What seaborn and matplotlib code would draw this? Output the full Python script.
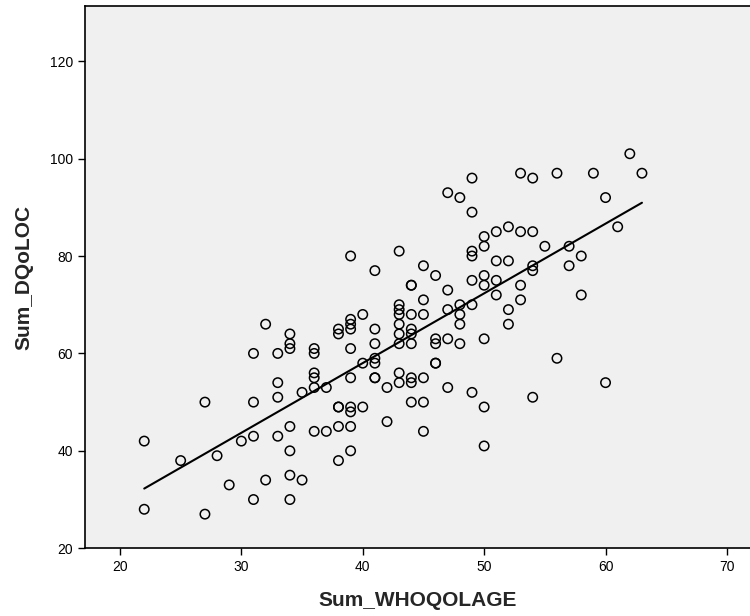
import matplotlib
matplotlib.use("Agg")
import matplotlib.pyplot as plt
import seaborn as sns
import pandas as pd

whoqol = [22, 22, 25, 27, 27, 28, 29, 30, 31, 31, 31, 31, 32, 32, 33, 33, 33, 33,
          34, 34, 34, 34, 34, 34, 34, 35, 35, 36, 36, 36, 36, 36, 36, 37, 37,
          38, 38, 38, 38, 38, 38, 39, 39, 39, 39, 39, 39, 39, 39, 39, 39,
          40, 40, 40, 41, 41, 41, 41, 41, 41, 41, 42, 42,
          43, 43, 43, 43, 43, 43, 43, 43, 43, 44, 44, 44, 44, 44, 44, 44, 44, 44,
          45, 45, 45, 45, 45, 45, 46, 46, 46, 46, 46, 47, 47, 47, 47, 47,
          48, 48, 48, 48, 48, 49, 49, 49, 49, 49, 49, 49,
          50, 50, 50, 50, 50, 50, 50, 51, 51, 51, 51, 52, 52, 52, 52,
          53, 53, 53, 53, 54, 54, 54, 54, 54, 55, 56, 56, 57, 57, 58, 58,
          59, 60, 60, 61, 62, 63]
dqoloc = [42, 28, 38, 50, 27, 39, 33, 42, 60, 50, 43, 30, 66, 34, 60, 54, 51, 43,
          64, 62, 61, 45, 40, 35, 30, 52, 34, 61, 60, 56, 55, 53, 44, 53, 44,
          65, 64, 49, 49, 45, 38, 80, 67, 66, 65, 61, 55, 49, 48, 45, 40,
          68, 58, 49, 77, 65, 62, 59, 58, 55, 55, 53, 46,
          81, 70, 69, 68, 66, 64, 62, 56, 54, 74, 74, 68, 65, 64, 62, 55, 54, 50,
          78, 71, 68, 55, 50, 44, 76, 63, 62, 58, 58, 93, 73, 69, 63, 53,
          92, 70, 68, 66, 62, 96, 89, 81, 80, 75, 70, 52,
          84, 82, 76, 74, 63, 49, 41, 85, 79, 75, 72, 86, 79, 69, 66,
          97, 85, 74, 71, 96, 85, 78, 77, 51, 82, 97, 59, 82, 78, 80, 72,
          97, 92, 54, 86, 101, 97]

x_ticks = [20, 30, 40, 50, 60, 70]
y_ticks = [20, 40, 60, 80, 100, 120]

df = pd.DataFrame({"Sum_WHOQOLAGE": whoqol, "Sum_DQoLOC": dqoloc})

sns.set_style("white")
plt.rcParams["font.family"] = ["Liberation Sans", "DejaVu Sans"]

fig = plt.figure(figsize=(7.5, 6.16), dpi=100)
ax = fig.add_axes([0.113, 0.110, 0.887, 0.880])
ax.set_facecolor("#F0F0F0")

sns.scatterplot(data=df, x="Sum_WHOQOLAGE", y="Sum_DQoLOC", ax=ax,
                facecolors="none", edgecolor="black", linewidth=1.1, s=46,
                marker="o")
sns.regplot(data=df, x="Sum_WHOQOLAGE", y="Sum_DQoLOC", ax=ax, scatter=False,
            ci=None, color="black", line_kws={"linewidth": 1.5})

ax.set_xlim(17.1, 71.9)
ax.set_ylim(20, 131.3)
ax.set_xticks(x_ticks)
ax.set_yticks(y_ticks)
ax.tick_params(axis="both", direction="out", length=5, width=1, color="black",
               labelsize=10, labelcolor="black", bottom=True, left=True)
for side in ["left", "bottom", "top"]:
    ax.spines[side].set_visible(True)
    ax.spines[side].set_color("black")
    ax.spines[side].set_linewidth(1.2)
ax.spines["right"].set_visible(False)

ax.set_xlabel("Sum_WHOQOLAGE", fontsize=15, fontweight="bold", labelpad=12)
ax.set_ylabel("Sum_DQoLOC", fontsize=15, fontweight="bold", labelpad=12)

fig.savefig("out.png", dpi=100, facecolor="white")
